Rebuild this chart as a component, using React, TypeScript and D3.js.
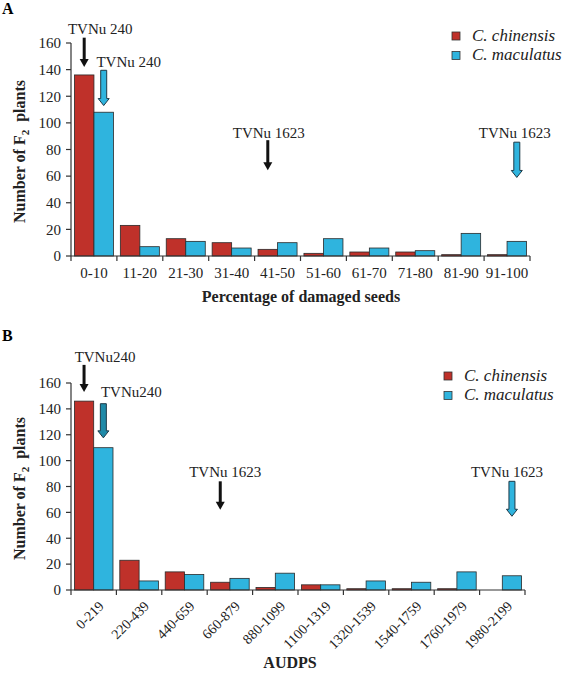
import React from 'react';
import * as d3 from 'd3';

const categoriesA = ['0-10', '11-20', '21-30', '31-40', '41-50', '51-60', '61-70', '71-80', '81-90', '91-100'];
const chinensisA = [136, 23, 13, 10, 5, 2, 3, 3, 1, 1];
const maculatusA = [108, 7, 11, 6, 10, 13, 6, 4, 17, 11];

const categoriesB = ['0-219', '220-439', '440-659', '660-879', '880-1099', '1100-1319', '1320-1539', '1540-1759', '1760-1979', '1980-2199'];
const chinensisB = [146, 23, 14, 6, 2, 4, 1, 1, 1, 0];
const maculatusB = [110, 7, 12, 9, 13, 4, 7, 6, 14, 11];

const yTicks = [0, 20, 40, 60, 80, 100, 120, 140, 160];
const seriesNames = ['C. chinensis', 'C. maculatus'];

// annotations: category index, series index, arrow from/to values, label value
const annotationsA = [
  { label: 'TVNu 240', cat: 0, series: 0, from: 164, to: 142, labelAt: 167, kind: 'black', dx: 16 },
  { label: 'TVNu 240', cat: 0, series: 1, from: 139.5, to: 113, labelAt: 141.7, kind: 'blue', dx: 25 },
  { label: 'TVNu 1623', cat: 4, series: 0, from: 87, to: 64.5, labelAt: 89, kind: 'black', dx: 1 },
  { label: 'TVNu 1623', cat: 9, series: 1, from: 85.5, to: 59, labelAt: 88.5, kind: 'blue', dx: -2 },
];
const annotationsB = [
  { label: 'TVNu240', cat: 0, series: 0, from: 174, to: 153, labelAt: 176.5, kind: 'black', dx: 21 },
  { label: 'TVNu240', cat: 0, series: 1, from: 144, to: 117.6, labelAt: 149, kind: 'teal', dx: 28 },
  { label: 'TVNu 1623', cat: 3, series: 0, from: 84, to: 62, labelAt: 87.5, kind: 'black', dx: 5 },
  { label: 'TVNu 1623', cat: 9, series: 1, from: 84, to: 57, labelAt: 87.5, kind: 'blue', dx: -5 },
];

const RED = '#bf312a';
const BLUE = '#2fb4de';
const TEAL = '#1f8aa8';
const FONT = '"Liberation Serif", "Times New Roman", serif';

type Ann = { label: string; cat: number; series: number; from: number; to: number; labelAt: number; kind: string; dx: number };

function Panel(props: {
  letter: string; letterY: number;
  x0: number; x1: number; yBase: number; yTop: number;
  categories: string[]; s1: number[]; s2: number[];
  anns: Ann[]; rotate: boolean; xTitle: string; xTitleX: number; xTitleY: number;
  legendX: number; legendY: number;
}) {
  const { x0, x1, yBase, yTop, categories, s1, s2, anns, rotate } = props;
  const x = d3.scaleBand<string>().domain(categories).range([x0, x1]).paddingInner(0.15).paddingOuter(0.075);
  const step = x.step();
  const sub = d3.scaleBand<number>().domain([0, 1]).range([0, x.bandwidth()]);
  const y = d3.scaleLinear().domain([0, 160]).range([yBase, yTop]);
  const colors = [RED, BLUE];
  const series = [s1, s2];
  const axisColor = '#333';
  const yMid = (yBase + yTop) / 2;

  return (
    <g>
      <text x={2} y={props.letterY} fontFamily={FONT} fontWeight="bold" fontSize={16}>{props.letter}</text>
      {/* bars */}
      {series.map((s, si) =>
        s.map((v, i) => (
          <rect key={`${si}-${i}`} x={(x(categories[i]) as number) + (sub(si) as number)} y={y(v)}
            width={sub.bandwidth()} height={yBase - y(v)} fill={colors[si]} stroke="#2a2a2a" strokeWidth={0.8} />
        ))
      )}
      {/* y axis */}
      <line x1={x0} x2={x0} y1={y(160)} y2={yBase} stroke={axisColor} strokeWidth={1.2} />
      {yTicks.map(t => (
        <g key={t}>
          <line x1={x0 - 5} x2={x0} y1={y(t)} y2={y(t)} stroke={axisColor} strokeWidth={1.2} />
          <text x={x0 - 10} y={y(t)} dy="0.35em" textAnchor="end" fontFamily={FONT} fontSize={15} fill="#222">{t}</text>
        </g>
      ))}
      {/* x axis */}
      <line x1={x0} x2={x1} y1={yBase} y2={yBase} stroke={axisColor} strokeWidth={1.2} />
      {d3.range(categories.length + 1).map(i => (
        <line key={i} x1={x0 + i * step} x2={x0 + i * step} y1={yBase} y2={yBase + 5} stroke={axisColor} strokeWidth={1.2} />
      ))}
      {categories.map(c => {
        const cx = (x(c) as number) + x.bandwidth() / 2;
        return rotate ? (
          <text key={c} transform={`translate(${cx + 4},${yBase + 10}) rotate(-45)`} textAnchor="end" dy="0.7em"
            fontFamily={FONT} fontSize={14} fill="#222">{c}</text>
        ) : (
          <text key={c} x={cx} y={yBase + 22} textAnchor="middle" fontFamily={FONT} fontSize={15} fill="#222">{c}</text>
        );
      })}
      {/* axis titles */}
      <text transform={`translate(25,${yMid + 2}) rotate(-90)`} textAnchor="middle" fontFamily={FONT} fontWeight="bold" fontSize={16} fill="#222">
        Number of F<tspan fontSize={11} dy={4}>2</tspan><tspan dy={-4}>{'\u00a0\u00a0'}plants</tspan>
      </text>
      <text x={props.xTitleX} y={props.xTitleY} textAnchor="middle" fontFamily={FONT} fontWeight="bold" fontSize={16} fill="#222">{props.xTitle}</text>
      {/* legend */}
      {seriesNames.map((n, i) => (
        <g key={n}>
          <rect x={props.legendX} y={props.legendY + i * 19.5} width={8} height={8} fill={colors[i]} stroke="#333" strokeWidth={0.8} />
          <text x={props.legendX + 20} y={props.legendY + i * 19.5 + 8.5} fontFamily={FONT} fontStyle="italic" fontSize={17} fill="#222">{n}</text>
        </g>
      ))}
      {/* annotations */}
      {anns.map((a, k) => {
        const ax = (x(categories[a.cat]) as number) + (sub(a.series) as number) + sub.bandwidth() / 2;
        const yf = y(a.from);
        const yt = y(a.to);
        let arrow;
        if (a.kind === 'black') {
          arrow = (
            <g>
              <line x1={ax} x2={ax} y1={yf} y2={yt - 7} stroke="#111" strokeWidth={3} />
              <path d={`M${ax - 4.5},${yt - 8} L${ax + 4.5},${yt - 8} L${ax},${yt} Z`} fill="#111" />
            </g>
          );
        } else {
          const sw = 3, hw = 5.5, hl = 7;
          const pts = [
            [ax - sw, yf], [ax + sw, yf], [ax + sw, yt - hl], [ax + hw, yt - hl], [ax, yt], [ax - hw, yt - hl], [ax - sw, yt - hl],
          ].map(p => p.join(',')).join(' ');
          arrow = <polygon points={pts} fill={a.kind === 'teal' ? TEAL : BLUE} stroke="#1d3a48" strokeWidth={1} />;
        }
        return (
          <g key={k}>
            {arrow}
            <text x={ax + a.dx} y={y(a.labelAt)} textAnchor="middle" fontFamily={FONT} fontSize={15} fill="#222">{a.label}</text>
          </g>
        );
      })}
    </g>
  );
}

export default function App() {
  return (
    <svg width={563} height={674} style={{ position: 'absolute', left: 0, top: 0, background: '#fff' }}>
      <rect width={563} height={674} fill="#fff" />
      <Panel letter="A" letterY={14} x0={71} x1={530} yBase={256} yTop={43}
        categories={categoriesA} s1={chinensisA} s2={maculatusA} anns={annotationsA} rotate={false}
        xTitle="Percentage of damaged seeds" xTitleX={301} xTitleY={302} legendX={452} legendY={32} />
      <Panel letter="B" letterY={341} x0={71} x1={525} yBase={590} yTop={383}
        categories={categoriesB} s1={chinensisB} s2={maculatusB} anns={annotationsB} rotate={true}
        xTitle="AUDPS" xTitleX={290} xTitleY={668} legendX={444} legendY={372} />
    </svg>
  );
}
